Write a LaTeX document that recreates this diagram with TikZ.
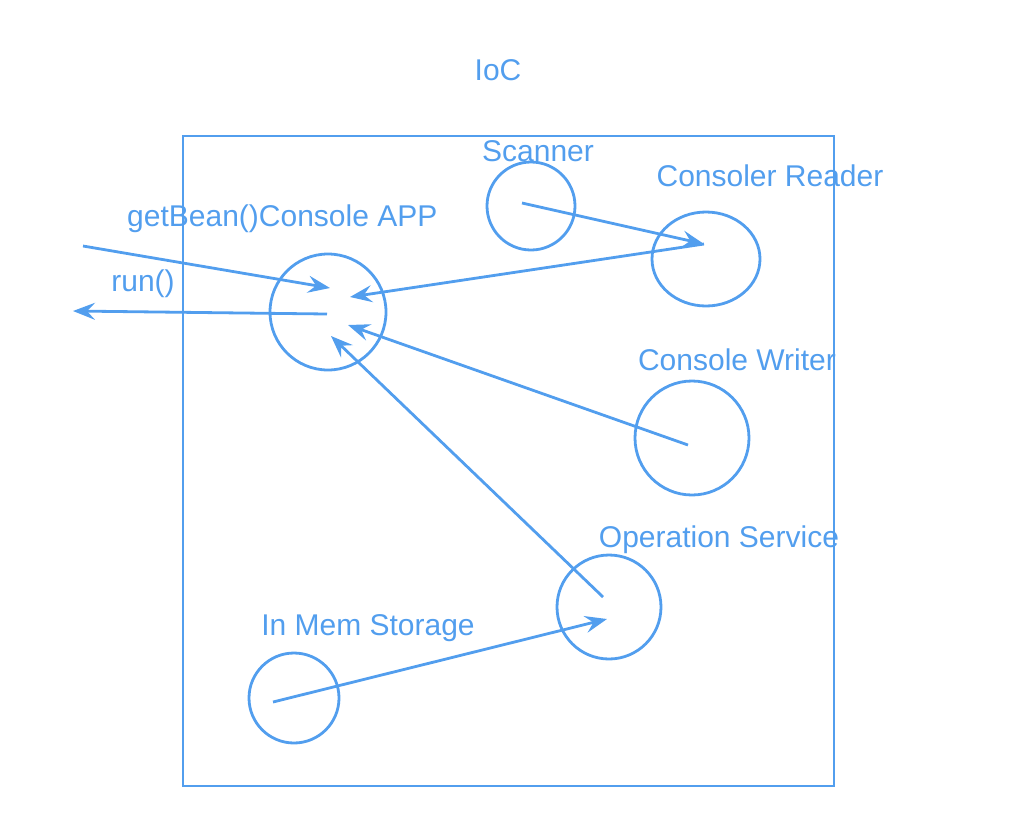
\documentclass[tikz,border=0pt]{standalone}
\usepackage{fontspec}
\setmainfont{Liberation Sans}
\usetikzlibrary{arrows.meta}
\definecolor{ioc}{RGB}{82,158,238}
\begin{document}
\begin{tikzpicture}[x=1pt,y=-1pt,
  lbl/.style={text=ioc,font=\fontsize{30}{34}\selectfont,inner sep=0pt},
  bean/.style={draw=ioc,line width=2.8pt},
  conn/.style={draw=ioc,line width=2.8pt,-{Stealth[length=22pt,width=17pt,inset=8pt]}}]
\useasboundingbox (0,0) rectangle (1033,815);
\node[draw=ioc,line width=2.8pt,minimum width=651pt,minimum height=650pt,inner sep=0pt] (box) at (508.5,461) {};
\node[lbl] (ioclbl) at (498,70) {IoC};
% circles
\draw[bean] (328,312) circle[radius=58pt];
\draw[bean] (531,206) circle[radius=44pt];
\draw[bean] (706,259) ellipse[x radius=54pt,y radius=47pt];
\draw[bean] (692,438) circle[radius=57pt];
\draw[bean] (609,607) circle[radius=52pt];
\draw[bean] (294,698) circle[radius=45pt];
% labels
\node[lbl,anchor=west] (getbean) at (127,219) {getBean()Console APP};
\node[lbl] (run) at (143,284) {run()};
\node[lbl] (scanner) at (538,151) {Scanner};
\node[lbl] (reader) at (770,176) {Consoler Reader};
\node[lbl] (writer) at (737,360) {Console Writer};
\node[lbl] (opsvc) at (719,540) {Operation Service};
\node[lbl] (inmem) at (368,628) {In Mem Storage};
% connector ends
\coordinate (gbstart) at (83,246);
\coordinate (gbend) at (330,288);
\coordinate (runstart) at (327,314);
\coordinate (runend) at (73,311);
\coordinate (scanS) at (522,203);
\coordinate (readC) at (704,244);
\coordinate (appR) at (350,297);
\coordinate (writerS) at (688,445);
\coordinate (appW) at (348,325);
\coordinate (opS) at (603,597);
\coordinate (appO) at (331,336);
\coordinate (memS) at (273,702);
\coordinate (opE) at (607,619);
\draw[conn] (gbstart) -- (gbend);
\draw[conn] (runstart) -- (runend);
\draw[conn] (scanS) -- (readC);
\draw[conn] (readC) -- (appR);
\draw[conn] (writerS) -- (appW);
\draw[conn] (opS) -- (appO);
\draw[conn] (memS) -- (opE);
\end{tikzpicture}
\end{document}
